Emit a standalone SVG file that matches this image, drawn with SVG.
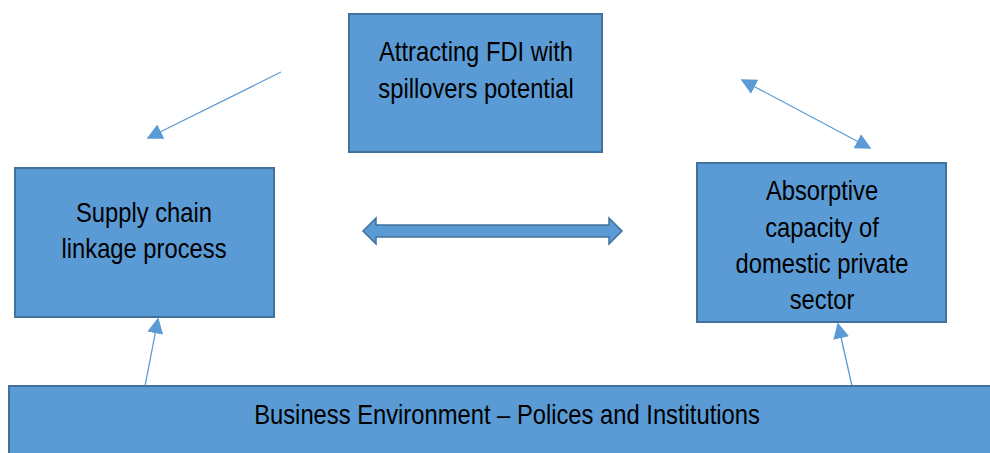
<svg xmlns="http://www.w3.org/2000/svg" width="990" height="453" viewBox="0 0 990 453">
<defs>
<style>
.box{fill:#5B9BD5;stroke:#41719C;stroke-width:2}
.t{font-family:"Liberation Sans",Arial,sans-serif;font-size:27px;fill:#000;text-anchor:middle}
.ln{stroke:#5B9BD5;stroke-width:1.3;fill:none}
</style>
<marker id="ah" viewBox="0 0 10 10" refX="9" refY="5" markerWidth="16" markerHeight="16" markerUnits="userSpaceOnUse" orient="auto-start-reverse">
<path d="M0,0 L10,5 L0,10 z" fill="#5B9BD5"/>
</marker>
</defs>
<rect width="990" height="453" fill="#fff"/>
<g id="connectors">
<line class="ln" x1="281" y1="72" x2="148" y2="138" marker-end="url(#ah)"/>
<line class="ln" x1="742" y1="80" x2="870" y2="148" marker-start="url(#ah)" marker-end="url(#ah)"/>
<path d="M363,231 L376,218 L376,225 L609,225 L609,218 L622,231 L609,244 L609,237 L376,237 L376,244 Z" fill="#5B9BD5" stroke="#41719C" stroke-width="1.5"/>
<line class="ln" x1="145" y1="386" x2="158" y2="319" marker-end="url(#ah)"/>
<line class="ln" x1="852" y1="386" x2="838" y2="324" marker-end="url(#ah)"/>
</g>
<g id="fdi">
<rect class="box" x="349" y="14" width="253" height="138"/>
<g transform="translate(476,0) scale(0.88,1)">
<text class="t" x="0" y="61">Attracting FDI with</text>
<text class="t" x="0" y="98">spillovers potential</text>
</g>
</g>
<g id="supply">
<rect class="box" x="15" y="168" width="259" height="149"/>
<g transform="translate(144,0) scale(0.88,1)">
<text class="t" x="0" y="222">Supply chain</text>
<text class="t" x="0" y="258">linkage process</text>
</g>
</g>
<g id="absorptive">
<rect class="box" x="697" y="163" width="249" height="159"/>
<g transform="translate(822,0) scale(0.88,1)">
<text class="t" x="0" y="200">Absorptive</text>
<text class="t" x="0" y="237">capacity of</text>
<text class="t" x="0" y="273">domestic private</text>
<text class="t" x="0" y="309">sector</text>
</g>
</g>
<g id="business">
<rect class="box" x="9" y="386" width="990" height="75"/>
<g transform="translate(507,0) scale(0.88,1)">
<text class="t" x="0" y="424">Business Environment – Polices and Institutions</text>
</g>
</g>
</svg>
